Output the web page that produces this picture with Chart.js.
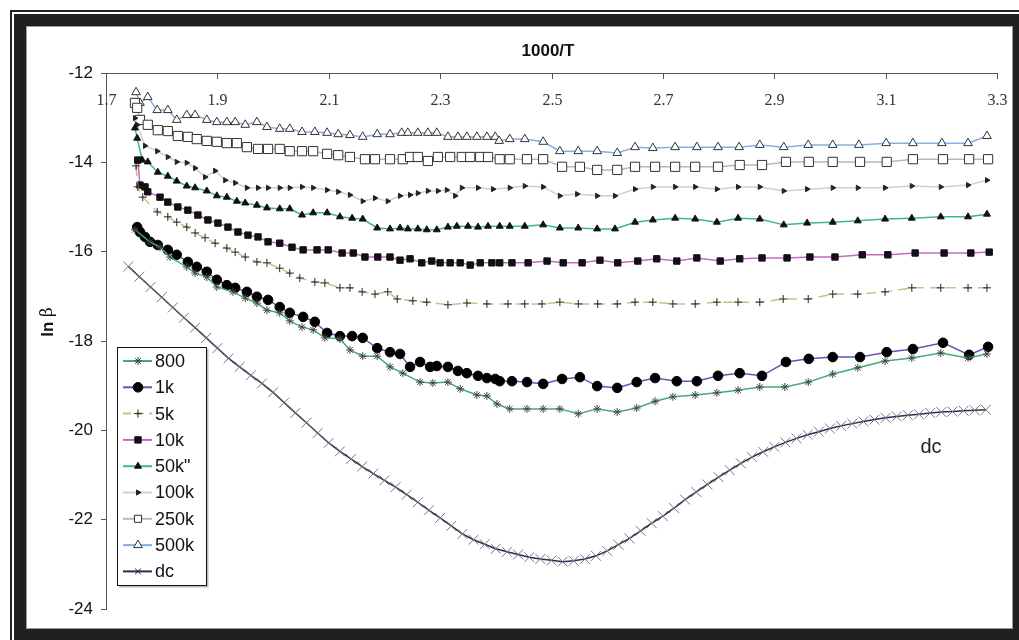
<!DOCTYPE html>
<html><head><meta charset="utf-8">
<script src="https://cdn.jsdelivr.net/npm/chart.js@4"></script>
<style>
html,body{margin:0;padding:0;background:#fff;overflow:hidden;width:1019px;height:640px;}
#f1{position:absolute;left:10px;top:10px;width:1019px;height:635px;box-sizing:border-box;border:2px solid #222;}
#f2{position:absolute;left:2px;top:2px;right:2px;bottom:2px;border:12px solid #201e1e;}
#f3{position:absolute;left:0;top:0;right:0;bottom:0;border:1px solid #999;background:#fff;}
#c{position:absolute;left:28px;top:28px;z-index:2;}
</style></head>
<body>
<div id="f1"><div id="f2"><div id="f3"></div></div></div>
<canvas id="c" width="985" height="601"></canvas>
<script>
const seriesNames = ['800','1k','5k','10k','50k"','100k','250k','500k','dc'];
const xTickLabels = ['1.7','1.9','2.1','2.3','2.5','2.7','2.9','3.1','3.3'];
const yTickValues = [-12,-14,-16,-18,-20,-22,-24];

const x800 = [1.752,1.779,1.797,1.815,1.845,1.860,1.881,1.899,1.928,1.950,1.971,1.989,2.012,2.030,2.052,2.072,2.093,2.120,2.138,2.161,2.187,2.210,2.233,2.264,2.287,2.314,2.336,2.366,2.384,2.402,2.425,2.456,2.485,2.515,2.548,2.582,2.618,2.653,2.686,2.718,2.758,2.797,2.835,2.874,2.919,2.961,3.005,3.050,3.099,3.147,3.199,3.248,3.282];
const y800 = [-15.51,-15.78,-15.90,-16.12,-16.34,-16.48,-16.57,-16.79,-16.90,-17.04,-17.15,-17.31,-17.37,-17.55,-17.69,-17.75,-17.93,-17.95,-18.20,-18.34,-18.34,-18.58,-18.72,-18.92,-18.94,-18.92,-19.07,-19.21,-19.23,-19.41,-19.52,-19.52,-19.52,-19.52,-19.63,-19.52,-19.59,-19.50,-19.35,-19.25,-19.21,-19.16,-19.10,-19.03,-19.03,-18.92,-18.74,-18.60,-18.45,-18.38,-18.27,-18.38,-18.29];

const x1k = [1.756,1.761,1.770,1.779,1.793,1.811,1.827,1.847,1.863,1.881,1.899,1.917,1.932,1.953,1.971,1.991,2.012,2.030,2.054,2.075,2.097,2.120,2.142,2.161,2.187,2.210,2.228,2.246,2.264,2.282,2.294,2.314,2.332,2.348,2.368,2.384,2.399,2.407,2.429,2.456,2.485,2.519,2.551,2.582,2.618,2.653,2.686,2.725,2.761,2.799,2.838,2.878,2.921,2.962,3.005,3.054,3.102,3.149,3.203,3.250,3.284];
const y1k = [-15.45,-15.56,-15.67,-15.78,-15.85,-15.96,-16.07,-16.23,-16.34,-16.45,-16.63,-16.75,-16.81,-16.90,-17.01,-17.08,-17.24,-17.37,-17.46,-17.57,-17.82,-17.89,-17.89,-17.93,-18.16,-18.25,-18.29,-18.58,-18.47,-18.58,-18.56,-18.58,-18.67,-18.72,-18.78,-18.83,-18.85,-18.90,-18.90,-18.92,-18.96,-18.85,-18.81,-19.01,-19.05,-18.92,-18.83,-18.90,-18.90,-18.78,-18.72,-18.78,-18.47,-18.40,-18.36,-18.36,-18.25,-18.18,-18.04,-18.31,-18.13];

const x5k = [1.754,1.757,1.766,1.792,1.811,1.827,1.845,1.860,1.878,1.896,1.917,1.932,1.950,1.971,1.989,2.012,2.030,2.048,2.075,2.093,2.120,2.138,2.160,2.183,2.206,2.223,2.251,2.276,2.314,2.348,2.384,2.422,2.452,2.483,2.515,2.548,2.583,2.618,2.650,2.682,2.718,2.758,2.797,2.835,2.874,2.916,2.961,3.005,3.050,3.099,3.147,3.199,3.248,3.282];
const y5k = [-14.08,-14.55,-14.78,-15.11,-15.22,-15.34,-15.45,-15.58,-15.69,-15.81,-15.92,-16.01,-16.12,-16.23,-16.25,-16.37,-16.48,-16.59,-16.68,-16.70,-16.81,-16.81,-16.90,-16.95,-16.90,-17.06,-17.10,-17.13,-17.19,-17.15,-17.17,-17.17,-17.17,-17.17,-17.13,-17.17,-17.17,-17.17,-17.13,-17.13,-17.17,-17.17,-17.13,-17.13,-17.13,-17.06,-17.06,-16.95,-16.95,-16.90,-16.81,-16.81,-16.81,-16.81];

const x10k = [1.757,1.761,1.770,1.775,1.797,1.811,1.829,1.847,1.865,1.883,1.901,1.919,1.937,1.955,1.973,1.991,2.012,2.034,2.054,2.079,2.099,2.124,2.144,2.165,2.188,2.210,2.228,2.246,2.267,2.285,2.300,2.318,2.336,2.354,2.372,2.393,2.407,2.429,2.458,2.492,2.521,2.555,2.587,2.619,2.655,2.689,2.725,2.761,2.803,2.838,2.878,2.923,2.964,3.009,3.058,3.104,3.153,3.205,3.253,3.286];
const y10k = [-13.95,-14.51,-14.55,-14.66,-14.78,-14.89,-15.00,-15.07,-15.18,-15.29,-15.36,-15.45,-15.56,-15.63,-15.67,-15.78,-15.81,-15.90,-15.96,-15.96,-15.96,-16.03,-16.03,-16.12,-16.12,-16.12,-16.19,-16.16,-16.25,-16.21,-16.25,-16.25,-16.25,-16.30,-16.25,-16.25,-16.25,-16.25,-16.25,-16.21,-16.25,-16.25,-16.19,-16.25,-16.21,-16.16,-16.21,-16.14,-16.21,-16.16,-16.14,-16.14,-16.12,-16.12,-16.07,-16.07,-16.03,-16.03,-16.03,-16.01];

const x50k = [1.752,1.756,1.765,1.775,1.793,1.811,1.827,1.845,1.860,1.881,1.899,1.917,1.935,1.950,1.971,1.989,2.012,2.030,2.052,2.072,2.097,2.120,2.142,2.161,2.187,2.210,2.228,2.242,2.260,2.276,2.294,2.314,2.330,2.350,2.368,2.386,2.407,2.425,2.452,2.485,2.515,2.548,2.582,2.614,2.650,2.682,2.722,2.758,2.797,2.835,2.874,2.917,2.959,3.005,3.050,3.099,3.147,3.199,3.248,3.282];
const y50k = [-13.23,-13.46,-13.95,-13.99,-14.22,-14.31,-14.42,-14.53,-14.57,-14.64,-14.75,-14.78,-14.87,-14.91,-14.96,-15.02,-15.04,-15.04,-15.18,-15.13,-15.13,-15.22,-15.25,-15.27,-15.47,-15.49,-15.47,-15.49,-15.49,-15.51,-15.51,-15.45,-15.43,-15.43,-15.45,-15.43,-15.43,-15.43,-15.43,-15.40,-15.47,-15.47,-15.49,-15.49,-15.34,-15.29,-15.25,-15.27,-15.34,-15.25,-15.27,-15.40,-15.36,-15.34,-15.31,-15.27,-15.25,-15.22,-15.22,-15.16];

const x100k = [1.752,1.756,1.770,1.792,1.811,1.827,1.845,1.860,1.878,1.896,1.914,1.932,1.953,1.973,1.991,2.012,2.030,2.052,2.072,2.097,2.117,2.138,2.161,2.183,2.206,2.228,2.246,2.260,2.278,2.296,2.312,2.327,2.339,2.368,2.395,2.425,2.452,2.485,2.515,2.546,2.582,2.614,2.650,2.682,2.722,2.758,2.797,2.835,2.874,2.917,2.959,3.005,3.050,3.099,3.147,3.199,3.248,3.282];
const y100k = [-13.01,-13.16,-13.63,-13.75,-13.88,-13.99,-14.01,-14.13,-14.33,-14.19,-14.40,-14.46,-14.57,-14.57,-14.57,-14.57,-14.57,-14.55,-14.57,-14.62,-14.66,-14.73,-14.87,-14.80,-14.87,-14.75,-14.73,-14.69,-14.64,-14.64,-14.62,-14.75,-14.57,-14.57,-14.60,-14.57,-14.53,-14.55,-14.75,-14.71,-14.75,-14.75,-14.60,-14.55,-14.55,-14.55,-14.60,-14.55,-14.55,-14.64,-14.60,-14.57,-14.57,-14.57,-14.53,-14.55,-14.51,-14.40];

const x250k = [1.752,1.756,1.761,1.775,1.793,1.811,1.829,1.847,1.863,1.881,1.899,1.917,1.935,1.953,1.973,1.991,2.012,2.030,2.052,2.072,2.097,2.117,2.138,2.165,2.183,2.210,2.233,2.246,2.260,2.278,2.296,2.318,2.339,2.354,2.372,2.386,2.407,2.425,2.456,2.485,2.519,2.551,2.582,2.618,2.650,2.686,2.722,2.758,2.799,2.838,2.878,2.921,2.962,3.005,3.054,3.102,3.149,3.203,3.250,3.284];
const y250k = [-12.67,-12.78,-13.05,-13.16,-13.28,-13.30,-13.41,-13.43,-13.48,-13.52,-13.54,-13.57,-13.57,-13.66,-13.70,-13.70,-13.70,-13.75,-13.75,-13.75,-13.81,-13.84,-13.88,-13.93,-13.93,-13.93,-13.93,-13.88,-13.88,-13.97,-13.88,-13.88,-13.88,-13.88,-13.88,-13.88,-13.93,-13.93,-13.93,-13.93,-14.10,-14.10,-14.17,-14.17,-14.10,-14.10,-14.10,-14.10,-14.10,-14.06,-14.06,-13.99,-13.99,-13.99,-13.99,-13.99,-13.93,-13.93,-13.93,-13.93];

const x500k = [1.754,1.761,1.775,1.792,1.811,1.827,1.845,1.860,1.881,1.899,1.917,1.932,1.950,1.971,1.989,2.012,2.030,2.052,2.075,2.097,2.117,2.138,2.161,2.187,2.210,2.231,2.242,2.260,2.278,2.294,2.314,2.332,2.348,2.366,2.384,2.399,2.406,2.425,2.452,2.485,2.515,2.548,2.582,2.618,2.650,2.682,2.722,2.761,2.799,2.837,2.874,2.917,2.961,3.005,3.052,3.101,3.149,3.201,3.248,3.282];
const y500k = [-12.43,-12.67,-12.54,-12.83,-12.83,-13.05,-12.94,-12.94,-13.05,-13.10,-13.10,-13.10,-13.16,-13.10,-13.21,-13.25,-13.25,-13.32,-13.32,-13.34,-13.37,-13.39,-13.43,-13.37,-13.37,-13.34,-13.34,-13.34,-13.34,-13.34,-13.43,-13.43,-13.43,-13.43,-13.43,-13.43,-13.52,-13.48,-13.48,-13.54,-13.75,-13.75,-13.75,-13.79,-13.66,-13.68,-13.66,-13.66,-13.66,-13.66,-13.61,-13.66,-13.61,-13.61,-13.61,-13.57,-13.57,-13.57,-13.57,-13.41];

const xDc = [1.74,1.76,1.78,1.80,1.82,1.84,1.86,1.88,1.90,1.92,1.94,1.96,1.98,2.00,2.02,2.04,2.06,2.08,2.10,2.12,2.14,2.16,2.18,2.20,2.22,2.24,2.26,2.28,2.30,2.32,2.34,2.36,2.38,2.40,2.42,2.44,2.46,2.48,2.50,2.52,2.54,2.56,2.58,2.60,2.62,2.64,2.66,2.68,2.70,2.72,2.74,2.76,2.78,2.80,2.82,2.84,2.86,2.88,2.90,2.92,2.94,2.96,2.98,3.00,3.02,3.04,3.06,3.08,3.10,3.12,3.14,3.16,3.18,3.20,3.22,3.24,3.26,3.28];
const yDc = [-16.33,-16.56,-16.79,-17.02,-17.25,-17.48,-17.70,-17.93,-18.16,-18.39,-18.58,-18.77,-18.95,-19.15,-19.38,-19.61,-19.83,-20.06,-20.28,-20.47,-20.64,-20.81,-20.97,-21.12,-21.27,-21.44,-21.61,-21.79,-21.96,-22.14,-22.32,-22.45,-22.55,-22.65,-22.72,-22.78,-22.84,-22.88,-22.91,-22.94,-22.92,-22.88,-22.81,-22.70,-22.56,-22.42,-22.25,-22.08,-21.92,-21.74,-21.55,-21.38,-21.21,-21.05,-20.89,-20.74,-20.60,-20.48,-20.37,-20.27,-20.18,-20.10,-20.03,-19.96,-19.90,-19.85,-19.80,-19.76,-19.72,-19.69,-19.66,-19.64,-19.61,-19.59,-19.58,-19.56,-19.55,-19.54];

const pts = (xs, ys) => xs.map((x, i) => ({x: x, y: ys[i]}));

const styles = [
  {line:'#3fae6e', ps:'star', r:4, bg:'#444', bc:'#444'},
  {line:'#5a5ab4', ps:'circle', r:4.8, bg:'#000', bc:'#000'},
  {line:'#c9c187', ps:'cross', r:4, bg:'#222', bc:'#222', dash:[10,6]},
  {line:'#c668c6', ps:'rect', r:4.5, bg:'#111', bc:'#111'},
  {line:'#3fb3a3', ps:'triangle', r:4, bg:'#111', bc:'#111'},
  {line:'#cfcfcf', ps:'triangle', r:3, bg:'#222', bc:'#222', rot:90},
  {line:'#b8b8b8', ps:'rect', r:6.5, bg:'#fff', bc:'#333'},
  {line:'#86aee6', ps:'triangle', r:5, bg:'#fff', bc:'#333'},
  {line:'#2b2b55', ps:'crossRot', r:7, bg:'#777', bc:'#777', lr:4}
];
const values = [pts(x800,y800), pts(x1k,y1k), pts(x5k,y5k), pts(x10k,y10k), pts(x50k,y50k),
                pts(x100k,y100k), pts(x250k,y250k), pts(x500k,y500k), pts(xDc,yDc)];

const datasets = values.map((d, i) => {
  const s = styles[i];
  return {
    label: seriesNames[i], data: d,
    borderColor: s.line, borderWidth: 1.5, borderDash: s.dash || [],
    pointStyle: s.ps, pointRadius: s.r, pointRotation: s.rot || 0,
    pointBackgroundColor: s.bg, pointBorderColor: s.bc, pointBorderWidth: 1,
    tension: 0, fill: false
  };
});

const overlay = {
  id: 'overlay',
  afterDraw(chart) {
    const ctx = chart.ctx, xs = chart.scales.x, ca = chart.chartArea;
    ctx.save();
    ctx.strokeStyle = '#555'; ctx.lineWidth = 1;
    ctx.fillStyle = '#333'; ctx.font = '16px "Liberation Serif", "Times New Roman", serif';
    ctx.textAlign = 'center'; ctx.textBaseline = 'middle';
    xTickLabels.forEach(l => {
      const px = Math.round(xs.getPixelForValue(Number(l))) + 0.5;
      ctx.beginPath(); ctx.moveTo(px, ca.top); ctx.lineTo(px, ca.top + 6); ctx.stroke();
      ctx.fillText(l, px, ca.top + 27.5);
    });
    ctx.fillStyle = '#111';
    ctx.font = 'bold 17px "Liberation Sans", Arial, sans-serif';
    ctx.fillText('1000/T', 520, 23);
    ctx.save();
    ctx.translate(20, 294); ctx.rotate(-Math.PI / 2);
    ctx.textAlign = 'left';
    ctx.font = 'bold 17px "Liberation Sans", Arial, sans-serif';
    const w1 = ctx.measureText('ln ').width;
    ctx.font = '17px "DejaVu Serif", "Liberation Serif", serif';
    const w2 = ctx.measureText('β').width;
    ctx.font = 'bold 17px "Liberation Sans", Arial, sans-serif';
    ctx.fillText('ln ', -(w1 + w2) / 2, 0);
    ctx.font = '17px "DejaVu Serif", "Liberation Serif", serif';
    ctx.fillText('β', -(w1 + w2) / 2 + w1, 0);
    ctx.restore();
    const bx = 89, by = 319, bw = 89, bh = 238;
    ctx.fillStyle = '#fff'; ctx.fillRect(bx, by, bw, bh);
    ctx.strokeStyle = '#bbb'; ctx.lineWidth = 2;
    ctx.beginPath(); ctx.moveTo(bx + 2, by + bh + 1.5); ctx.lineTo(bx + bw + 1.5, by + bh + 1.5); ctx.lineTo(bx + bw + 1.5, by + 2); ctx.stroke();
    ctx.strokeStyle = '#111'; ctx.lineWidth = 1;
    ctx.strokeRect(bx + 0.5, by + 0.5, bw, bh);
    chart.data.datasets.forEach((ds, i) => {
      const y = 333 + i * 26.3;
      const s = styles[i];
      ctx.save();
      ctx.strokeStyle = ds.borderColor; ctx.lineWidth = 2;
      ctx.setLineDash(ds.borderDash && ds.borderDash.length ? [8, 5] : []);
      ctx.beginPath(); ctx.moveTo(95, y); ctx.lineTo(124, y); ctx.stroke();
      ctx.setLineDash([]);
      ctx.fillStyle = ds.pointBackgroundColor; ctx.strokeStyle = i === 8 ? '#222' : ds.pointBorderColor; ctx.lineWidth = 1;
      Chart.helpers.drawPoint(ctx, {pointStyle: ds.pointStyle, radius: s.lr || Math.min(ds.pointRadius, 5), rotation: ds.pointRotation, borderWidth: 1}, 110, y);
      ctx.restore();
      ctx.fillStyle = '#111'; ctx.textAlign = 'left'; ctx.textBaseline = 'middle';
      ctx.font = '18px "Liberation Sans", Arial, sans-serif';
      ctx.fillText(ds.label, 127, y + 1);
    });
    ctx.fillStyle = '#222'; ctx.textAlign = 'center';
    ctx.font = '20px "Liberation Sans", Arial, sans-serif';
    ctx.fillText('dc', 903, 419);
    ctx.restore();
  }
};

new Chart(document.getElementById('c'), {
  type: 'line',
  data: {datasets: datasets},
  options: {
    responsive: false, animation: false, devicePixelRatio: 1,
    layout: {padding: {left: 0, right: 16, top: 0, bottom: 20}},
    plugins: {legend: {display: false}, tooltip: {enabled: false}},
    scales: {
      x: {type: 'linear', position: 'top', min: 1.7, max: 3.3,
          afterFit(s) { s.height = 45; },
          grid: {display: false, drawTicks: false},
          border: {display: true, color: '#555', width: 1},
          ticks: {display: false, stepSize: 0.2}},
      y: {type: 'linear', min: -24, max: -12,
          afterFit(s) { s.width = 78; },
          grid: {drawOnChartArea: false, drawTicks: true, tickLength: 5, color: '#555'},
          border: {display: true, color: '#555', width: 1},
          afterBuildTicks(s) { s.ticks = yTickValues.map(v => ({value: v})); },
          ticks: {padding: 8, color: '#111', font: {family: '"Liberation Sans", Arial, sans-serif', size: 17}}}
    }
  },
  plugins: [overlay]
});
</script>
</body></html>
